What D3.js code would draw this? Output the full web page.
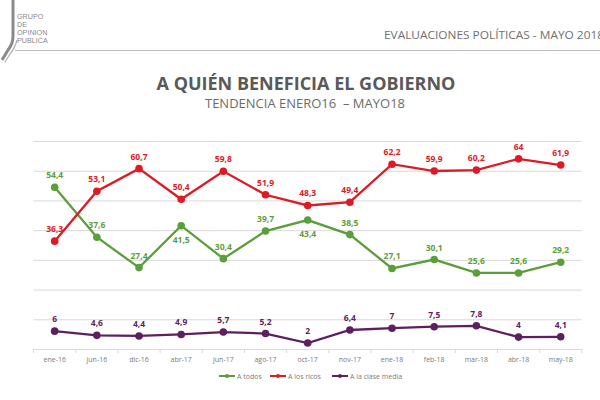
<!DOCTYPE html>
<html><head><meta charset="utf-8">
<script src="https://cdn.jsdelivr.net/npm/d3@7"></script>
<style>body{margin:0;background:#fff}svg{display:block}</style>
</head><body>
<svg id="c" width="600" height="400"></svg>
<script>
const categories = ["ene-16","jun-16","dic-16","abr-17","jun-17","ago-17","oct-17","nov-17","ene-18","feb-18","mar-18","abr-18","may-18"];
const aTodos = [54.4,37.6,27.4,41.5,30.4,39.7,43.4,38.5,27.1,30.1,25.6,25.6,29.2];
const aLosRicos = [36.3,53.1,60.7,50.4,59.8,51.9,48.3,49.4,62.2,59.9,60.2,64,61.9];
const aLaClaseMedia = [6,4.6,4.4,4.9,5.7,5.2,2,6.4,7,7.5,7.8,4,4.1];
const todosBelow = [false,false,false,true,false,false,true,false,false,false,false,false,false];
const yTicks = [0,10,20,30,40,50,60,70];
const seriesNames = ["A todos","A los ricos","A la clase media"];

const svg = d3.select("#c");
const font = "'Open Sans', 'Liberation Sans', sans-serif";

// header / logo
svg.append("path").attr("d","M13,0 L13,36 Q13,44 8,50 L2,60").attr("fill","none").attr("stroke","#8a8a8a").attr("stroke-width",3);
svg.append("path").attr("d","M17,40 Q15,48 10,54 L5,62").attr("fill","none").attr("stroke","#b0b0b0").attr("stroke-width",1.2);
["GRUPO","DE","OPINION","PUBLICA"].forEach((t,i)=>{
  svg.append("text").attr("x",17).attr("y",18.5+i*8.2).text(t)
    .attr("font-family","'Liberation Sans', sans-serif").attr("font-size",7.2).attr("fill","#8a8a8a");
});
svg.append("line").attr("x1",15).attr("x2",600).attr("y1",50.5).attr("y2",50.5).attr("stroke","#bdbdbd").attr("stroke-width",1.2);
svg.append("text").attr("x",384).attr("y",39).text("EVALUACIONES POLÍTICAS - MAYO 2018")
  .attr("font-family",font).attr("font-size",11.5).attr("fill","#707070").attr("textLength",220).attr("lengthAdjust","spacingAndGlyphs");

svg.append("text").attr("x",306).attr("y",90).attr("text-anchor","middle").text("A QUIÉN BENEFICIA EL GOBIERNO")
  .attr("font-family",font).attr("font-weight","bold").attr("font-size",18).attr("fill","#595959");
svg.append("text").attr("x",305).attr("y",107.5).attr("text-anchor","middle").text("TENDENCIA ENERO16\u00a0\u00a0– MAYO18")
  .attr("font-family",font).attr("font-size",13).attr("fill","#6b6b6b");

// scales
const x = d3.scaleBand().domain(categories).range([33.6,581.8]);
const cx = d => x(d)+x.bandwidth()/2;
const y = d3.scaleLinear().domain([0,70]).range([349,141]);

// gridlines
const grid = svg.append("g")
  .call(d3.axisLeft(y).tickValues(yTicks).tickSize(-(581.8-33.6)).tickFormat(""))
  .attr("transform","translate(33.6,0)");
grid.select(".domain").remove();
grid.selectAll(".tick line").attr("stroke","#d9d9d9").attr("stroke-width",1);

// x axis
const xa = svg.append("g").attr("transform","translate(0,349)")
  .call(d3.axisBottom(x).tickSize(0).tickPadding(8));
xa.select(".domain").attr("stroke","#d9d9d9");
xa.selectAll("text").attr("font-family",font).attr("font-size",7).attr("fill","#7a7a7a");
// boundary ticks
const bounds = categories.map(c=>x(c)).concat([581.8]);
svg.append("g").selectAll("line").data(bounds).join("line")
  .attr("x1",d=>d).attr("x2",d=>d).attr("y1",349).attr("y2",353).attr("stroke","#d9d9d9");

const series = [
  {name:seriesNames[0], vals:aTodos, color:"#5c9e3b"},
  {name:seriesNames[1], vals:aLosRicos, color:"#de1a24"},
  {name:seriesNames[2], vals:aLaClaseMedia, color:"#5e1f5e"}
];
const line = d3.line().x((d,i)=>cx(categories[i])).y(d=>y(d));
series.forEach((s,si)=>{
  const g = svg.append("g");
  g.append("path").attr("d",line(s.vals)).attr("fill","none").attr("stroke",s.color).attr("stroke-width",2.3);
  g.selectAll("circle").data(s.vals).join("circle")
    .attr("cx",(d,i)=>cx(categories[i])).attr("cy",d=>y(d)).attr("r",3.8).attr("fill",s.color);
  g.selectAll("text").data(s.vals).join("text")
    .attr("x",(d,i)=>cx(categories[i]))
    .attr("y",(d,i)=> (si===0 && todosBelow[i]) ? y(d)+17 : y(d)-9)
    .attr("text-anchor","middle")
    .text(d=>String(d).replace(".",","))
    .attr("font-family",font).attr("font-weight","bold").attr("font-size",8.5).attr("fill",s.color);
});

// legend
const legX = [219,270,332];
series.forEach((s,i)=>{
  const g = svg.append("g").attr("transform",`translate(${legX[i]},376)`);
  g.append("line").attr("x1",0).attr("x2",16).attr("stroke",s.color).attr("stroke-width",2);
  g.append("circle").attr("cx",8).attr("r",2).attr("fill",s.color);
  g.append("text").attr("x",18).attr("y",2.5).text(s.name)
    .attr("font-family",font).attr("font-size",7).attr("fill","#7a7a7a");
});
</script>
</body></html>
